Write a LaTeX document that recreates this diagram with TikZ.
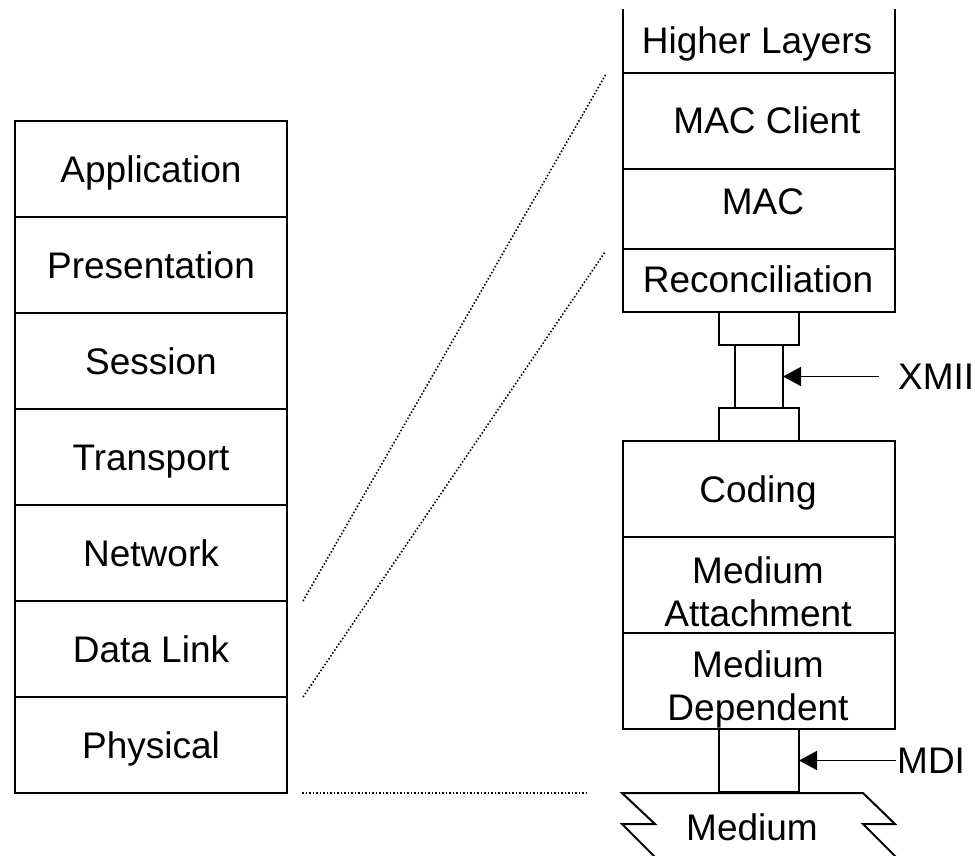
\documentclass[tikz,border=0pt]{standalone}
\usepackage{fontspec}
\setmainfont{Liberation Sans}
\usetikzlibrary{arrows.meta}
\tikzset{
  layer/.style={draw, line width=2pt, rectangle, inner sep=0pt, outer sep=0pt,
    anchor=north west, minimum width=272pt},
  plug/.style={draw, line width=2pt, rectangle, inner sep=0pt, outer sep=0pt,
    anchor=north west},
  txt/.style={inner sep=0pt, anchor=base, font=\fontsize{37}{42}\selectfont},
  mtxt/.style={inner sep=0pt, anchor=center, align=center, font=\fontsize{37}{43}\selectfont},
  dotline/.style={line width=1.6pt, dash pattern=on 1.5pt off 2pt},
  pointer/.style={line width=1.5pt, -{Triangle[length=18pt,width=19pt]}},
  edge/.style={line width=2pt}
}
\begin{document}
\begin{tikzpicture}[x=1pt,y=-1pt]
\useasboundingbox (0,0) rectangle (975,855);
% ---------- left OSI stack ----------
\node[layer, minimum height=96pt] (app)  at (15,121) {};
\node[layer, minimum height=96pt] (pres) at (15,217) {};
\node[layer, minimum height=96pt] (sess) at (15,313) {};
\node[layer, minimum height=96pt] (trans) at (15,409) {};
\node[layer, minimum height=96pt] (net)  at (15,505) {};
\node[layer, minimum height=96pt] (dl)   at (15,601) {};
\node[layer, minimum height=96pt] (phys) at (15,697) {};
\node[txt] (tapp)  at (151,182) {Application};
\node[txt] (tpres) at (151,278) {Presentation};
\node[txt] (tsess) at (151,374) {Session};
\node[txt] (ttrans) at (151,470) {Transport};
\node[txt] (tnet)  at (151,566) {Network};
\node[txt] (tdl)   at (151,662) {Data Link};
\node[txt] (tphys) at (151,758) {Physical};
% ---------- right stack ----------
\draw[edge] (623,9) -- (623,73) -- (895,73) -- (895,9);
\node[txt] (thigh) at (757,53) {Higher Layers};
\node[layer, minimum height=96pt] (macc) at (623,73) {};
\node[layer, minimum height=80pt] (mac)  at (623,169) {};
\node[layer, minimum height=63pt] (rec)  at (623,249) {};
\node[txt] (tmacc) at (767,133) {MAC Client};
\node[txt] (tmac)  at (763,214) {MAC};
\node[txt] (trec)  at (758,292) {Reconciliation};
% XMII connector
\node[plug, minimum width=80pt, minimum height=33pt] (xu) at (719,312) {};
\node[plug, minimum width=48pt, minimum height=63pt] (xm) at (735,345) {};
\node[plug, minimum width=80pt, minimum height=33pt] (xl) at (719,408) {};
% lower PHY stack
\node[layer, minimum height=96pt] (cod) at (623,441) {};
\node[layer, minimum height=96pt] (att) at (623,537) {};
\node[layer, minimum height=96pt] (dep) at (623,633) {};
\node[txt] (tcod) at (758,502) {Coding};
\node[mtxt] (tatt) at (758,592) {Medium\\Attachment};
\node[mtxt] (tdep) at (758,689) {Medium\\Dependent};
% MDI connector
\node[plug, minimum width=80pt, minimum height=63pt] (mdi) at (719,729) {};
% Medium
\draw[edge] (658,860) -- (622,824) -- (655,824) -- (622,793) -- (863,793)
  -- (895,824) -- (863,824) -- (899,860);
\node[txt] (tmed) at (752,840) {Medium};
% labels and pointers
\coordinate (xa) at ([xshift=96pt]xm.east);
\node[txt, anchor=base west] (txmii) at (898,389) {XMII};
\draw[pointer] (xa) -- (xm.east);
\coordinate (ma) at ([xshift=97pt]mdi.east);
\node[txt, anchor=base west] (tmdi) at (897,773) {MDI};
\draw[pointer] (ma) -- (mdi.east);
% dotted mapping lines
\coordinate (d1a) at ([xshift=16pt]dl.north east);
\coordinate (d1b) at ([xshift=-17pt,yshift=-1pt]macc.north west);
\coordinate (d2a) at ([xshift=16pt]phys.north east);
\coordinate (d2b) at ([xshift=-18pt,yshift=-3pt]rec.north west);
\coordinate (d3a) at ([xshift=15pt]phys.south east);
\coordinate (d3b) at (588,793);
\draw[dotline] (d1a) -- (d1b);
\draw[dotline] (d2a) -- (d2b);
\draw[dotline] (d3a) -- (d3b);
\end{tikzpicture}
\end{document}
